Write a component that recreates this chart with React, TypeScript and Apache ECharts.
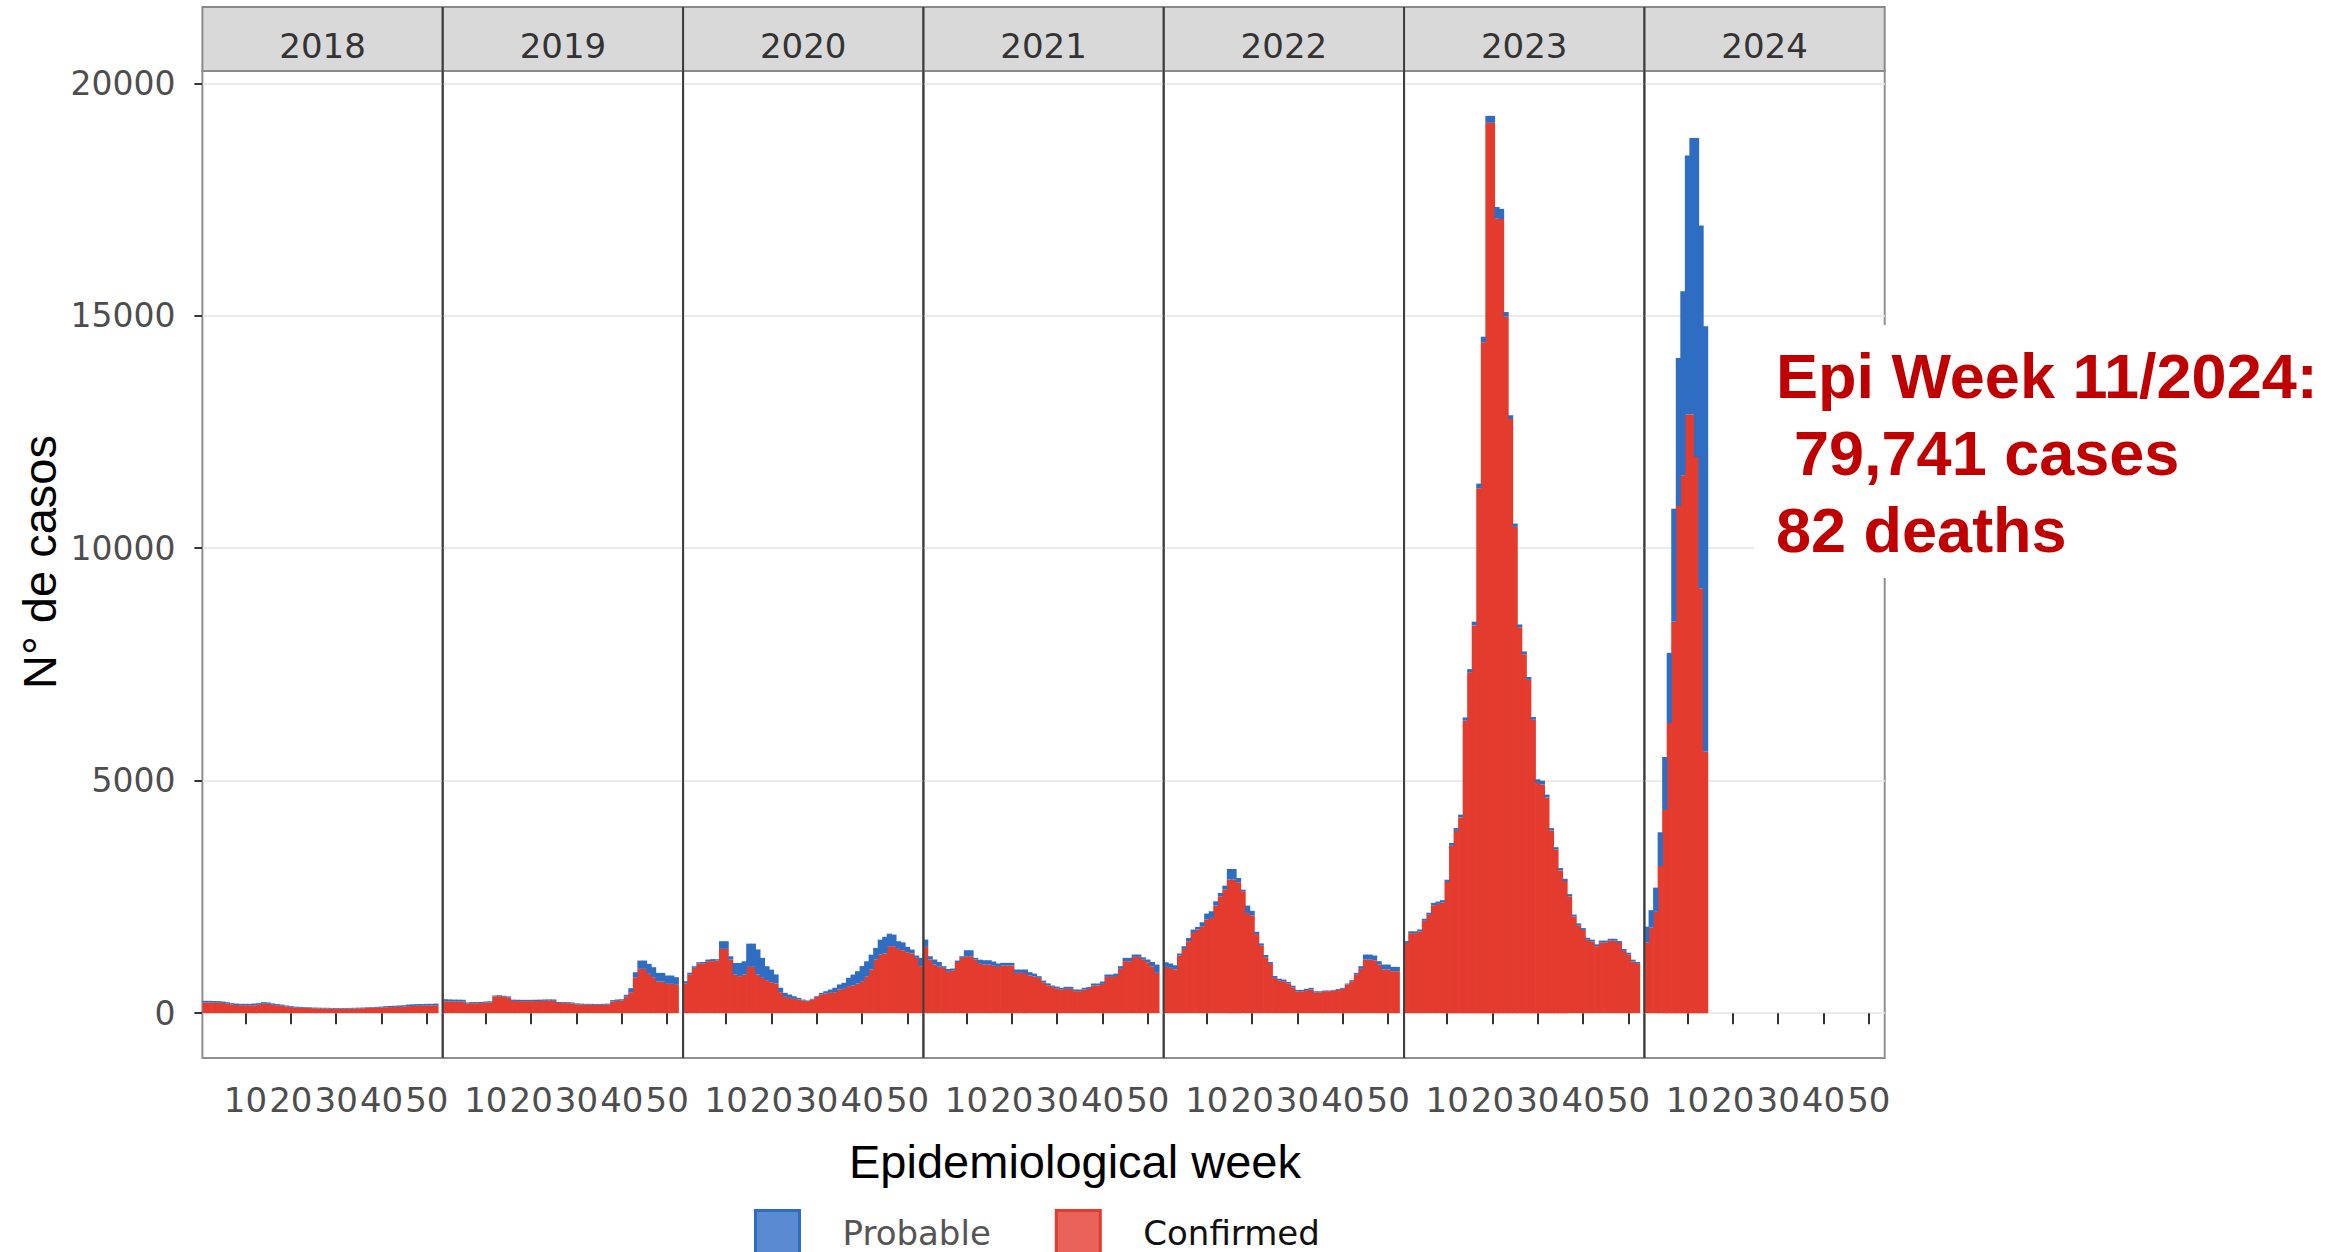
import React, { useEffect, useRef } from 'react';
import * as echarts from 'echarts';

// ---------------- data ----------------
const years = ['2018', '2019', '2020', '2021', '2022', '2023', '2024'];
const weekCategories = [
  '1', '2', '3', '4', '5', '6', '7', '8', '9', '10', '11', '12', '13', '14', '15', '16', '17', '18',
  '19', '20', '21', '22', '23', '24', '25', '26', '27', '28', '29', '30', '31', '32', '33', '34', '35',
  '36', '37', '38', '39', '40', '41', '42', '43', '44', '45', '46', '47', '48', '49', '50', '51', '52', '53',
];
const xTickLabels = ['10', '20', '30', '40', '50'];
const yTickValues = [0, 5000, 10000, 15000, 20000];

const confirmed2018 = [230, 230, 227, 223, 220, 205, 185, 175, 170, 170, 170, 170, 180, 200, 200, 180, 170, 160, 145, 130, 120, 115, 115, 110, 105, 103, 100, 100, 97, 95, 95, 95, 97, 100, 103, 105, 110, 115, 115, 120, 125, 130, 135, 135, 140, 150, 155, 160, 160, 165, 165, 170];
const probable2018 = [35, 35, 35, 35, 30, 30, 30, 30, 30, 30, 30, 35, 35, 35, 30, 30, 25, 25, 20, 20, 20, 20, 15, 15, 15, 15, 15, 15, 15, 15, 15, 15, 15, 15, 15, 15, 15, 15, 20, 20, 25, 25, 25, 30, 30, 35, 35, 35, 35, 35, 35, 35];

const confirmed2019 = [255, 250, 250, 248, 248, 205, 213, 213, 215, 225, 230, 360, 365, 355, 340, 262, 260, 258, 258, 258, 260, 262, 264, 266, 264, 220, 216, 216, 210, 190, 185, 180, 180, 178, 178, 180, 185, 250, 264, 270, 354, 451, 773, 952, 952, 845, 773, 680, 680, 630, 630, 609];
const probable2019 = [45, 45, 42, 42, 40, 25, 25, 25, 25, 25, 25, 20, 20, 20, 20, 28, 28, 28, 28, 28, 28, 28, 30, 30, 30, 20, 20, 20, 20, 20, 20, 20, 20, 20, 20, 20, 20, 30, 30, 30, 40, 86, 107, 179, 179, 215, 215, 186, 186, 179, 179, 164];

const confirmed2020 = [637, 830, 974, 1067, 1070, 1117, 1117, 1130, 1382, 1382, 1153, 830, 795, 830, 995, 995, 830, 759, 709, 666, 637, 451, 351, 329, 308, 294, 272, 258, 294, 351, 401, 422, 437, 451, 508, 523, 580, 594, 637, 687, 795, 938, 1153, 1260, 1282, 1439, 1439, 1382, 1353, 1310, 1282, 1189, 1010];
const probable2020 = [50, 40, 35, 30, 30, 35, 45, 30, 165, 165, 70, 250, 285, 285, 500, 500, 540, 430, 300, 270, 195, 95, 85, 70, 55, 35, 20, 15, 15, 15, 35, 50, 70, 95, 110, 130, 180, 235, 265, 325, 320, 320, 250, 320, 360, 270, 250, 165, 170, 115, 85, 50, 180];

const confirmed2021 = [1425, 1153, 1045, 1000, 974, 890, 920, 1100, 1189, 1224, 1224, 1153, 1060, 1045, 1045, 1020, 995, 1024, 1024, 1024, 866, 866, 866, 809, 790, 759, 660, 600, 566, 530, 508, 523, 523, 473, 473, 508, 520, 594, 594, 630, 780, 780, 800, 952, 1117, 1117, 1210, 1210, 1150, 1095, 1000, 866];
const probable2021 = [157, 71, 108, 100, 36, 60, 40, 30, 35, 129, 129, 36, 90, 93, 93, 90, 72, 57, 57, 57, 72, 72, 72, 72, 60, 36, 40, 40, 28, 40, 36, 43, 43, 35, 35, 36, 40, 43, 43, 50, 50, 50, 50, 58, 72, 72, 50, 50, 50, 58, 100, 179];

const confirmed2022 = [995, 974, 940, 1239, 1382, 1547, 1726, 1797, 1869, 2012, 2048, 2313, 2513, 2656, 2871, 2871, 2814, 2621, 2155, 2100, 1700, 1450, 1200, 1060, 760, 700, 687, 640, 555, 465, 470, 494, 508, 440, 450, 473, 473, 485, 500, 523, 616, 687, 831, 952, 1153, 1153, 1138, 1045, 938, 938, 902, 902];
const probable2022 = [100, 93, 90, 43, 57, 71, 71, 57, 86, 129, 143, 93, 72, 86, 229, 229, 93, 35, 158, 100, 50, 50, 50, 40, 40, 40, 36, 30, 35, 35, 30, 29, 36, 30, 20, 14, 14, 15, 20, 21, 21, 22, 35, 58, 107, 107, 101, 72, 107, 107, 93, 93];

const confirmed2023 = [1510, 1720, 1720, 1755, 1985, 2115, 2320, 2350, 2380, 2820, 3600, 3920, 4210, 6290, 7330, 8340, 11290, 14430, 19150, 19150, 17090, 17080, 14980, 12780, 10460, 8300, 7720, 7170, 6310, 4950, 4920, 4640, 3930, 3520, 3070, 2840, 2510, 2080, 1890, 1790, 1580, 1540, 1440, 1520, 1520, 1560, 1560, 1510, 1340, 1260, 1110, 1060];
const probable2023 = [40, 40, 40, 45, 45, 45, 50, 50, 50, 50, 60, 60, 60, 70, 70, 80, 100, 120, 150, 150, 250, 220, 100, 80, 70, 60, 60, 60, 60, 80, 80, 60, 50, 50, 50, 50, 50, 40, 40, 40, 40, 40, 40, 40, 40, 40, 40, 40, 40, 40, 40, 40];

const confirmed2024 = [1520, 1840, 2180, 3165, 4370, 6240, 8420, 10910, 11570, 12875, 12875, 11960, 9140, 5630];
const probable2024 = [340, 375, 520, 725, 1140, 1510, 2430, 3180, 3960, 5570, 5950, 6865, 7800, 9145];

const confirmedByYear = [confirmed2018, confirmed2019, confirmed2020, confirmed2021, confirmed2022, confirmed2023, confirmed2024];
const probableByYear = [probable2018, probable2019, probable2020, probable2021, probable2022, probable2023, probable2024];

const annotationLines = ['Epi Week 11/2024:', '79,741 cases', '82 deaths'];

// ---------------- layout / style ----------------
const W = 2351;
const H = 1252;
const PLOT_LEFT = 202.4;
const PANEL_W = 240.33;
const PLOT_TOP = 71;
const PLOT_BOTTOM = 1058;
const STRIP_TOP = 7;
const Y_MIN = -965;
const Y_MAX = 20265;
const RED = '#e43b2f';
const BLUE = '#2e6dc1';
const TICK_FONT = '"DejaVu Sans", Verdana, sans-serif';
const TITLE_FONT = '"Liberation Sans", Arial, sans-serif';
const BAR_W = PANEL_W / weekCategories.length + 0.7;

export default function App() {
  const ref = useRef<HTMLDivElement>(null);

  useEffect(() => {
    if (!ref.current) return;
    const chart = echarts.init(ref.current, null, { renderer: 'svg' });
    const isTick = (_i: number, v: string) => xTickLabels.indexOf(String(v)) >= 0;

    const grid = years.map((_, i) => ({
      left: PLOT_LEFT + i * PANEL_W,
      top: PLOT_TOP,
      width: PANEL_W,
      height: PLOT_BOTTOM - PLOT_TOP,
      show: true,
      borderColor: '#8f8f8f',
      borderWidth: 2,
      backgroundColor: 'transparent',
      containLabel: false,
    }));

    const xAxis = years.map((_, i) => ({
      type: 'category',
      gridIndex: i,
      data: weekCategories,
      boundaryGap: true,
      axisLine: { show: false },
      axisTick: {
        show: true,
        alignWithLabel: true,
        interval: isTick,
        length: 11,
        lineStyle: { color: '#333333', width: 2 },
      },
      axisLabel: {
        show: true,
        interval: isTick,
        margin: 25,
        fontFamily: TICK_FONT,
        fontSize: 34,
        color: '#4d4d4d',
        hideOverlap: false,
      },
      splitLine: { show: false },
    }));

    const yAxis = years.map((_, i) => ({
      type: 'value',
      gridIndex: i,
      min: Y_MIN,
      max: Y_MAX,
      axisLine: { show: false },
      axisTick: {
        show: i === 0,
        customValues: yTickValues,
        length: 8,
        lineStyle: { color: '#333333', width: 2 },
      },
      axisLabel: {
        show: i === 0,
        customValues: yTickValues,
        margin: 27,
        fontFamily: TICK_FONT,
        fontSize: 33,
        color: '#4d4d4d',
        formatter: (v: number) => String(v),
      },
      splitLine: { show: true, lineStyle: { color: '#ebebeb', width: 2 } },
    }));

    const series: any[] = [];
    years.forEach((_, i) => {
      series.push({
        type: 'bar',
        name: 'Confirmed',
        xAxisIndex: i,
        yAxisIndex: i,
        stack: 'year' + i,
        barWidth: BAR_W,
        data: confirmedByYear[i],
        itemStyle: { color: RED },
        emphasis: { disabled: true },
      });
      series.push({
        type: 'bar',
        name: 'Probable',
        xAxisIndex: i,
        yAxisIndex: i,
        stack: 'year' + i,
        barWidth: BAR_W,
        data: probableByYear[i],
        itemStyle: { color: BLUE },
        emphasis: { disabled: true },
      });
    });

    const graphics: any[] = [];
    // facet strips
    years.forEach((y, i) => {
      const x0 = PLOT_LEFT + i * PANEL_W;
      graphics.push({
        type: 'rect',
        z: 60,
        shape: { x: x0, y: STRIP_TOP, width: PANEL_W, height: PLOT_TOP - STRIP_TOP },
        style: { fill: '#d9d9d9', stroke: '#8a8a8a', lineWidth: 2 },
      });
      graphics.push({
        type: 'text',
        z: 61,
        x: x0 + PANEL_W / 2,
        y: 46,
        style: {
          text: y,
          font: `34px ${TICK_FONT}`,
          fill: '#333333',
          align: 'center',
          verticalAlign: 'middle',
        },
      });
    });
    // panel separators
    for (let i = 1; i < years.length; i++) {
      const x0 = PLOT_LEFT + i * PANEL_W;
      graphics.push({
        type: 'line',
        z: 62,
        shape: { x1: x0, y1: STRIP_TOP, x2: x0, y2: PLOT_BOTTOM },
        style: { stroke: '#3d3d3d', lineWidth: 2 },
      });
    }
    // annotation box
    graphics.push({
      type: 'rect',
      z: 70,
      shape: { x: 1754, y: 325, width: W - 1754, height: 253 },
      style: { fill: '#ffffff' },
    });
    const annotX = [1776, 1794, 1776];
    const annotY = [376, 453, 530];
    annotationLines.forEach((t, k) => {
      graphics.push({
        type: 'text',
        z: 71,
        x: annotX[k],
        y: annotY[k],
        style: {
          text: t,
          font: `bold 63px ${TITLE_FONT}`,
          fill: '#c00000',
          align: 'left',
          verticalAlign: 'middle',
        },
      });
    });
    // axis titles
    graphics.push({
      type: 'text',
      z: 71,
      x: 1075,
      y: 1161,
      style: {
        text: 'Epidemiological week',
        font: `47px ${TITLE_FONT}`,
        fill: '#000000',
        align: 'center',
        verticalAlign: 'middle',
      },
    });
    graphics.push({
      type: 'text',
      z: 71,
      x: 39,
      y: 562,
      rotation: Math.PI / 2,
      style: {
        text: 'N° de casos',
        font: `47px ${TITLE_FONT}`,
        fill: '#000000',
        align: 'center',
        verticalAlign: 'middle',
      },
    });

    chart.setOption({
      animation: false,
      backgroundColor: '#ffffff',
      grid,
      xAxis,
      yAxis,
      series,
      legend: {
        left: 749,
        top: 1204,
        orient: 'horizontal',
        icon: 'rect',
        itemWidth: 44,
        itemHeight: 44,
        itemGap: 64,
        selectedMode: false,
        data: [
          {
            name: 'Probable',
            itemStyle: { color: '#5a8bd2', borderColor: BLUE, borderWidth: 3 },
            textStyle: { color: '#555555' },
          },
          {
            name: 'Confirmed',
            itemStyle: { color: '#e9635b', borderColor: RED, borderWidth: 3 },
            textStyle: { color: '#111111' },
          },
        ],
        textStyle: {
          fontFamily: TICK_FONT,
          fontSize: 34,
          padding: [0, 0, 0, 38],
        },
      },
      graphic: { elements: graphics },
    });

    return () => chart.dispose();
  }, []);

  return (
    <div
      ref={ref}
      style={{ position: 'absolute', left: 0, top: 0, width: W, height: H, background: '#fff' }}
    />
  );
}
